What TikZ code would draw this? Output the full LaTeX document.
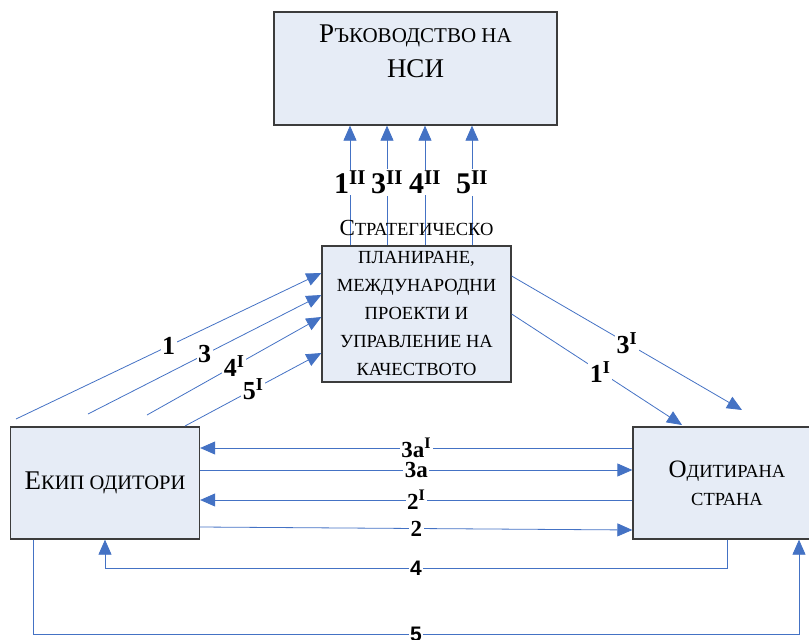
\documentclass[tikz,border=0pt]{standalone}
\usepackage{fontspec}
\setmainfont{Liberation Serif}
\newfontfamily\numsans{Liberation Sans}
\usetikzlibrary{arrows.meta,positioning}
\definecolor{boxfill}{RGB}{230,236,246}
\definecolor{boxline}{RGB}{60,60,60}
\definecolor{flow}{RGB}{68,114,196}
\newcommand\initcap[2][27]{{\fontsize{#1}{#1}\selectfont #2}}

\begin{document}
\begin{tikzpicture}[
  x=1pt, y=-1pt,
  box/.style={draw=boxline, fill=boxfill, line width=1.3pt, inner sep=0pt, align=center},
  txt/.style={align=center, inner sep=0pt},
  arr/.style={-{Triangle[length=15pt,width=13pt]}, draw=flow, line width=0.8pt},
  num/.style={font=\bfseries\fontsize{26}{26}\selectfont, fill=white, inner sep=1.5pt},
  numup/.style={num, font=\bfseries\fontsize{30}{30}\selectfont},
  numh/.style={num, font=\bfseries\fontsize{23}{23}\selectfont, inner ysep=0pt},
  numsf/.style={num, font=\numsans\bfseries\fontsize{21}{21}\selectfont},
]
\useasboundingbox (0,0) rectangle (809,640);
% boxes
\node[box, minimum width=283pt, minimum height=113pt] (nsi) at (415.5,68.5) {};
\node[box, minimum width=189pt, minimum height=136pt] (strat) at (416.5,314) {};
\node[box, minimum width=189pt, minimum height=112pt,
      font=\fontsize{20.5}{28}\selectfont] (ekip) at (105,483)
      {\initcap{Е}КИП ОДИТОРИ};
\node[box, minimum width=188pt, minimum height=112pt,
      font=\fontsize{18.5}{28}\selectfont] (odit) at (727,483)
      {\initcap[25]{О}ДИТИРАНА\\СТРАНА};

% free ends of the slanted arrows
\coordinate (f1) at (16,419);
\coordinate (f3) at (88,414);
\coordinate (f4) at (147,415);
\coordinate (f5) at (185,426);
\coordinate (t3) at (742,410);
\coordinate (t1) at (682,425);

% up to the management
\coordinate (u1) at ([xshift=-66.5pt]strat.north);
\coordinate (u3) at ([xshift=-29.5pt]strat.north);
\coordinate (u4) at ([xshift=8.5pt]strat.north);
\coordinate (u5) at ([xshift=55.5pt]strat.north);
\draw[arr] (u1) -- node[numup, pos=0.525] (l1ii) {1\textsuperscript{II}} (u1 |- nsi.south);
\draw[arr] (u3) -- node[numup, pos=0.525] (l3ii) {3\textsuperscript{II}} (u3 |- nsi.south);
\draw[arr] (u4) -- node[numup, pos=0.525] (l4ii) {4\textsuperscript{II}} (u4 |- nsi.south);
\draw[arr] (u5) -- node[numup, pos=0.525] (l5ii) {5\textsuperscript{II}} (u5 |- nsi.south);

% team -> strategic unit
\draw[arr] (f1) -- node[num] (l1) {1} ([yshift=41pt]strat.west);
\draw[arr] (f3) -- node[num] (l3) {3} ([yshift=19pt]strat.west);
\draw[arr] (f4) -- node[num] (l4i) {4\textsuperscript{I}} ([yshift=-3pt]strat.west);
\draw[arr] (f5) -- node[num] (l5i) {5\textsuperscript{I}} ([yshift=-39pt]strat.west);

% strategic unit -> audited side
\draw[arr] ([yshift=38pt]strat.east) -- node[num] (l3i) {3\textsuperscript{I}} (t3);
\draw[arr] (strat.east) -- node[num, pos=0.52] (l1i) {1\textsuperscript{I}} (t1);

% between team and audited side
\draw[arr] ([yshift=35pt]odit.west) -- node[numh] (l3ai) {3a\textsuperscript{I}} ([yshift=35pt]ekip.east);
\draw[arr] ([yshift=13pt]ekip.east) -- node[numh] (l3a) {3a} ([yshift=13pt]odit.west);
\draw[arr] ([yshift=-17pt]odit.west) -- node[numh] (l2i) {2\textsuperscript{I}} ([yshift=-17pt]ekip.east);
\draw[arr] ([yshift=-44pt]ekip.east) -- node[numh] (l2) {2} ([yshift=-47pt]odit.west);
\draw[arr] (odit.south) -- ++(0,29) -| node[numsf, pos=0.25] (l4) {4} (ekip.south);
\draw[arr] ([xshift=-72pt]ekip.south) -- ++(0,95) -| node[numsf, pos=0.25] (l5) {5} ([xshift=72pt]odit.south);

% texts
\node[txt, font=\fontsize{21}{35}\selectfont] (nsitxt) at (415.5,51.5)
  {\initcap{Р}ЪКОВОДСТВО НА\\\initcap{НСИ}};
\node[txt, font=\fontsize{18.5}{28}\selectfont] (strattxt) at (416.5,297.5)
  {\initcap[23]{С}ТРАТЕГИЧЕСКО\\ПЛАНИРАНЕ,\\МЕЖДУНАРОДНИ\\ПРОЕКТИ И\\УПРАВЛЕНИЕ НА\\КАЧЕСТВОТО};
\end{tikzpicture}
\end{document}
